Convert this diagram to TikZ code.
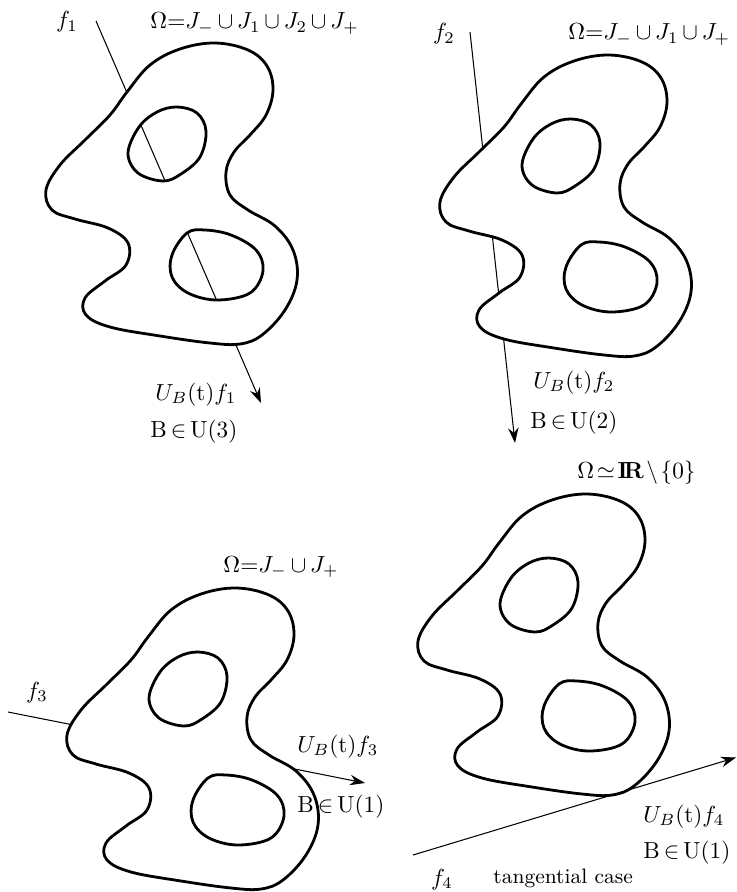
\documentclass[tikz,border=0pt]{standalone}
\usepackage{amsmath,amssymb}
\usetikzlibrary{arrows.meta}
\tikzset{
  bd/.style={line width=1.2pt, line join=round},
  ray/.style={line width=0.45pt},
  rayarrow/.style={ray, -{Stealth[length=6.5pt,width=4.5pt]}},
  lab/.style={inner sep=0pt, anchor=base west},
  clab/.style={inner sep=0pt, anchor=base},
  blob/.pic={
    \filldraw[bd, fill=white, even odd rule]
      plot[smooth cycle, tension=0.62] coordinates {(127,92) (150,65) (180,49) (215,43) (248,50) (267,66) (273,90) (266,115) (250,135) (234,152) (226,172) (230,195) (248,210) (275,226) (293,250) (297,280) (285,310) (262,335) (240,344) (210,343) (160,336) (110,327) (86,315) (85,298) (105,281) (126,265) (128,243) (108,228) (75,219) (52,210) (46,190) (60,165) (85,140) (110,115)}
      plot[smooth cycle, tension=0.6] coordinates {(177,107) (197,113) (206,131) (200,157) (181,174) (163,181) (138,173) (128,153) (139,127) (157,112)}
      plot[smooth cycle, tension=0.6] coordinates {(187,233) (205,230) (231,235) (256,250) (263,271) (250,293) (217,300) (188,293) (172,277) (172,255)};
  }
}
\begin{document}
\begin{tikzpicture}[x=0.43pt, y=-0.43pt]
\useasboundingbox (0,0) rectangle (737,892);
% panel 1
\coordinate (a1) at (96,21);
\coordinate (b1) at (261,403);
\draw[rayarrow] (a1) -- (b1);
\pic at (0,0) {blob};
\node[clab] (f1) at (67,28) {$f_1$};
\node[lab] (om1) at (150,29) {$\medmuskip=3mu\Omega{=}J_-\cup J_1\cup J_2\cup J_+$};
\node[lab] (u1) at (155,400) {$U_B(\mathrm{t})f_1$};
\node[lab] (g1) at (150,437) {B\,$\in$\,U(3)};
% panel 2
\coordinate (a2) at (470,32);
\coordinate (b2) at (515,443);
\draw[rayarrow] (a2) -- (b2);
\pic at (394,12) {blob};
\node[clab] (f2) at (444,40) {$f_2$};
\node[lab] (om2) at (568,40) {$\medmuskip=3mu\Omega{=}J_-\cup J_1\cup J_+$};
\node[lab] (u2) at (533,388) {$U_B(\mathrm{t})f_2$};
\node[lab] (g2) at (530,428) {B\,$\in$\,U(2)};
% panel 3
\coordinate (a3) at (8,712);
\coordinate (b3) at (365,783);
\draw[rayarrow] (a3) -- (b3);
\pic at (21,545) {blob};
\node[clab] (f3) at (37,698) {$f_3$};
\node[lab] (om3) at (223,572) {$\medmuskip=3mu\Omega{=}J_-\cup J_+$};
\node[lab] (u3) at (297,752) {$U_B(\mathrm{t})f_3$};
\node[lab] (g3) at (297,812) {B\,$\in$\,U(1)};
% panel 4
\pic at (372,451) {blob};
\coordinate (a4) at (413,855);
\coordinate (b4) at (736,757.5);
\draw[rayarrow] (a4) -- (b4);
\node[lab] (om4) at (577,478) {$\thickmuskip=2mu\medmuskip=2mu\Omega\simeq\mathbf{I\!R}\setminus\{0\}$};
\node[lab] (u4) at (643,822) {$U_B(\mathrm{t})f_4$};
\node[lab] (g4) at (643,858) {B\,$\in$\,U(1)};
\node[clab] (f4) at (442,885) {$f_4$};
\node[lab] (tc) at (493,883) {\small tangential case};
\end{tikzpicture}
\end{document}
